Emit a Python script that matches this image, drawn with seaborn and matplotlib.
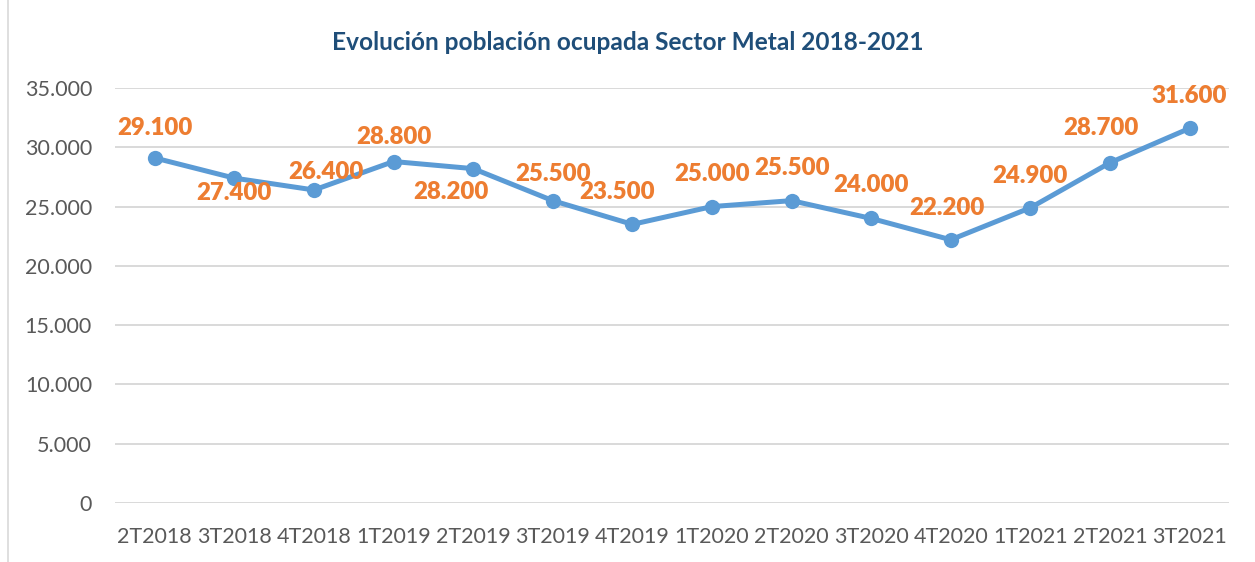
import pandas as pd
import matplotlib.pyplot as plt
import seaborn as sns
from matplotlib.lines import Line2D

# data
trimestres = ['2T2018', '3T2018', '4T2018', '1T2019', '2T2019', '3T2019', '4T2019',
              '1T2020', '2T2020', '3T2020', '4T2020', '1T2021', '2T2021', '3T2021']
ocupados = [29100, 27400, 26400, 28800, 28200, 25500, 23500,
            25000, 25500, 24000, 22200, 24900, 28700, 31600]
# label offsets in pixels (dx, dy)
label_dx = [0, 0, 12, 0, -22, 0, -15, 0, 0, 0, -4, 0, -9, 0]
label_dy = [30, -15, 18, 25, -23, 27, 32, 33, 33, 33, 32, 32, 35, 32]

df = pd.DataFrame({'trimestre': trimestres, 'ocupados': ocupados})
df['pos'] = range(len(df))

sns.set_style('white')
plt.rcParams['font.family'] = ['Lato', 'DejaVu Sans']

fig = plt.figure(figsize=(12.55, 5.62), dpi=100)
ax = fig.add_axes([0.0916, 0.105, 0.888, 0.7384])

sns.lineplot(data=df, x='pos', y='ocupados', ax=ax, color='#5B9BD5', linewidth=3.6,
             marker='o', markersize=11, markeredgewidth=0, zorder=3)

for x, y, t, dx, dy in zip(df['pos'], df['ocupados'], df['ocupados'], label_dx, label_dy):
    ax.annotate(f'{t:,}'.replace(',', '.'), (x, y), xytext=(dx * 0.72, dy * 0.72),
                textcoords='offset points', ha='center', va='center',
                fontsize=17.3, fontweight='heavy', color='#ED7D31')

ax.set_xlim(-0.5, len(trimestres) - 0.5)
ax.set_ylim(0, 35000)
ax.set_yticks(range(0, 35001, 5000))
ax.set_yticklabels([f'{v:,}'.replace(',', '.') for v in range(0, 35001, 5000)])
ax.set_xticks(df['pos'])
ax.set_xticklabels(trimestres)
ax.tick_params(axis='both', labelsize=15.5, colors='#595959', length=0)
ax.tick_params(axis='y', pad=16.5)
ax.tick_params(axis='x', pad=17)
ax.grid(axis='y', color='#D9D9D9', linewidth=1.4)
ax.set_axisbelow(True)
ax.set_xlabel('')
ax.set_ylabel('')
for s in ax.spines.values():
    s.set_visible(False)

fig.text(0.5, 0.925, 'Evolución población ocupada Sector Metal 2018-2021', ha='center',
         va='center', fontsize=17.6, fontweight='bold', color='#1F4E79')
fig.add_artist(Line2D([0.0065, 0.0065], [0, 1], color='#D9D9D9', linewidth=1.2,
                      transform=fig.transFigure))

plt.savefig('out.png', dpi=100)
